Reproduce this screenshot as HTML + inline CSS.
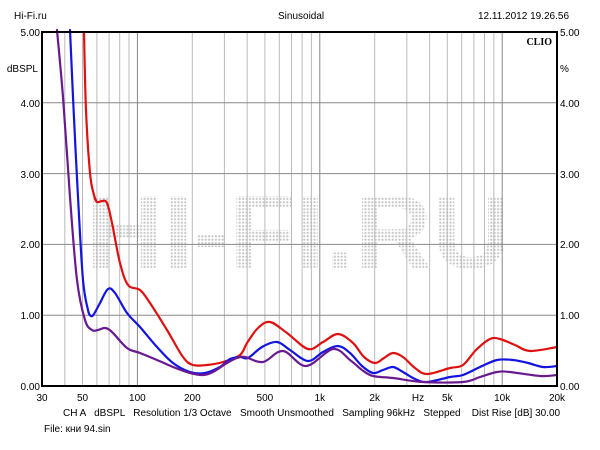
<!DOCTYPE html>
<html><head><meta charset="utf-8"><style>
body{margin:0;background:#fff;}
svg{display:block;font-family:"Liberation Sans",sans-serif;}
</style></head><body>
<svg id="s" width="600" height="450" viewBox="0 0 600 450">
<defs><pattern id="dots" width="3.4" height="3.4" patternUnits="userSpaceOnUse"><circle cx="1.7" cy="1.7" r="1.1" fill="#c4c4c4"/></pattern></defs>
<rect width="600" height="450" fill="#fff"/>
<text x="14" y="19" font-size="10">Hi-Fi.ru</text>
<text x="278" y="19" font-size="10">Sinusoidal</text>
<text x="478" y="19" font-size="10">12.11.2012 19.26.56</text>
<text x="86" y="268" font-size="104" font-weight="bold" fill="url(#dots)" textLength="424" lengthAdjust="spacingAndGlyphs">HI-FI.RU</text>
<g stroke="#bbb" stroke-width="1">
<line x1="64.8" y1="32" x2="64.8" y2="386"/><line x1="82.5" y1="32" x2="82.5" y2="386"/><line x1="96.9" y1="32" x2="96.9" y2="386"/><line x1="109.1" y1="32" x2="109.1" y2="386"/><line x1="119.7" y1="32" x2="119.7" y2="386"/><line x1="129" y1="32" x2="129" y2="386"/><line x1="137.4" y1="32" x2="137.4" y2="386" stroke="#888"/>
<line x1="192.3" y1="32" x2="192.3" y2="386"/><line x1="224.4" y1="32" x2="224.4" y2="386"/><line x1="247.2" y1="32" x2="247.2" y2="386"/><line x1="264.9" y1="32" x2="264.9" y2="386"/><line x1="279.3" y1="32" x2="279.3" y2="386"/><line x1="291.5" y1="32" x2="291.5" y2="386"/><line x1="302.1" y1="32" x2="302.1" y2="386"/><line x1="311.4" y1="32" x2="311.4" y2="386"/><line x1="319.8" y1="32" x2="319.8" y2="386" stroke="#888"/>
<line x1="374.7" y1="32" x2="374.7" y2="386"/><line x1="406.8" y1="32" x2="406.8" y2="386"/><line x1="429.6" y1="32" x2="429.6" y2="386"/><line x1="447.3" y1="32" x2="447.3" y2="386"/><line x1="461.7" y1="32" x2="461.7" y2="386"/><line x1="473.9" y1="32" x2="473.9" y2="386"/><line x1="484.5" y1="32" x2="484.5" y2="386"/><line x1="493.8" y1="32" x2="493.8" y2="386"/><line x1="502.2" y1="32" x2="502.2" y2="386" stroke="#888"/>
<line x1="42" y1="315.2" x2="557" y2="315.2" stroke="#888"/><line x1="42" y1="244.4" x2="557" y2="244.4" stroke="#888"/><line x1="42" y1="173.6" x2="557" y2="173.6" stroke="#888"/><line x1="42" y1="102.8" x2="557" y2="102.8" stroke="#888"/>
</g>
<g id="curves" fill="none" stroke-width="2.2" stroke-linejoin="round" stroke-linecap="round"></g>
<rect x="42" y="32" width="515" height="354" fill="none" stroke="#000" stroke-width="2"/>
<g font-size="10" text-anchor="end">
<text x="40" y="36">5.00</text><text x="40" y="107">4.00</text><text x="40" y="178">3.00</text><text x="40" y="248">2.00</text><text x="40" y="319">1.00</text><text x="40" y="390">0.00</text>
<text x="38" y="72">dBSPL</text>
</g>
<g font-size="10">
<text x="560" y="36">5.00</text><text x="560" y="107">4.00</text><text x="560" y="178">3.00</text><text x="560" y="248">2.00</text><text x="560" y="319">1.00</text><text x="560" y="390">0.00</text>
<text x="560" y="72">%</text>
</g>
<text x="552" y="45" font-size="10" font-weight="bold" text-anchor="end" font-family="Liberation Serif,serif">CLIO</text>
<g font-size="10" text-anchor="middle">
<text x="42" y="401">30</text><text x="82.5" y="401">50</text><text x="137.4" y="401">100</text><text x="192.3" y="401">200</text><text x="264.9" y="401">500</text><text x="319.8" y="401">1k</text><text x="374.7" y="401">2k</text><text x="418" y="401">Hz</text><text x="447.3" y="401">5k</text><text x="502.2" y="401">10k</text><text x="557" y="401">20k</text>
</g>
<text x="63" y="416" font-size="10" xml:space="preserve">CH A   dBSPL   Resolution 1/3 Octave   Smooth Unsmoothed   Sampling 96kHz   Stepped    Dist Rise [dB] 30.00</text>
<text x="44" y="432" font-size="10" font-family="Liberation Sans,DejaVu Sans,sans-serif">File: кни 94.sin</text>
</svg>
<script>
var data=[
["#e01010",[[84,32],[86,110],[90,173],[94,195],[97,202],[102,201],[107,203],[112,223],[120,263],[128,285],[140,290],[150,303],[167,330],[183,357],[193,365],[207,365],[223,362],[240,355],[247,343],[258,328],[270,322],[287,333],[308,349],[323,342],[338,334],[353,343],[364,357],[375,363],[384,358],[393,353],[403,357],[415,368],[427,374],[450,368],[463,365],[476,350],[490,339],[500,339],[515,345],[530,351],[557,347]]],
["#1414e0",[[70,30],[73,97],[78,197],[83,280],[88,310],[91,316],[94,314],[100,303],[108,289],[115,293],[127,313],[140,327],[157,347],[173,363],[190,372],[205,373],[220,367],[230,359],[240,357],[248,358],[262,347],[277,342],[290,350],[308,361],[323,352],[338,346],[350,353],[362,366],[373,373],[383,370],[393,367],[403,372],[415,379],[427,382],[450,377],[463,375],[480,367],[497,360],[513,360],[528,363],[543,367],[557,366]]],
["#6a1a90",[[57,30],[63,97],[70,197],[77,280],[85,320],[92,330],[98,330],[105,328],[112,332],[127,348],[140,353],[157,360],[173,367],[190,373],[203,375],[213,372],[227,363],[237,358],[245,357],[263,362],[283,351],[306,366],[333,349],[350,360],[362,370],[373,376],[393,378],[423,382],[463,382],[480,377],[497,372],[510,372],[540,376],[557,375]]]
];
var g=document.getElementById("curves");
data.forEach(function(c){var p=c[1],d="M"+p[0][0]+","+p[0][1];
for(var i=0;i<p.length-1;i++){var p0=p[i-1]||p[i],p1=p[i],p2=p[i+1],p3=p[i+2]||p2;
var c1x=p1[0]+(p2[0]-p0[0])/6,c1y=p1[1]+(p2[1]-p0[1])/6,c2x=p2[0]-(p3[0]-p1[0])/6,c2y=p2[1]-(p3[1]-p1[1])/6;
d+=" C"+c1x.toFixed(1)+","+c1y.toFixed(1)+" "+c2x.toFixed(1)+","+c2y.toFixed(1)+" "+p2[0]+","+p2[1];}
var e=document.createElementNS("http://www.w3.org/2000/svg","path");e.setAttribute("d",d);e.setAttribute("stroke",c[0]);g.appendChild(e);});
</script>
</body></html>
